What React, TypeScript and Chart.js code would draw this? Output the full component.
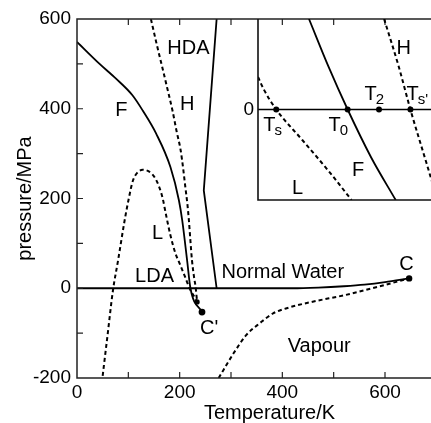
import React, { useEffect, useRef } from "react";
import { Chart, registerables } from "chart.js";
Chart.register(...registerables);

const FONT = "'Liberation Sans', Arial, Helvetica, sans-serif";

// ---- main axes ----
const xTickValues = [0, 100, 200, 300, 400, 500, 600, 700];
const xTickLabels = ["0", "", "200", "", "400", "", "600", ""];
const yTickValues = [-200, -100, 0, 100, 200, 300, 400, 500, 600];
const yTickLabels = ["-200", "", "0", "", "200", "", "400", "", "600"];

// ---- main curves (Temperature K, pressure MPa) ----
// F : solid line ending at C'
const fTemps = [0, 44, 76, 108, 128, 154, 182, 198.5, 205, 214.5, 221, 243.5];
const fPress = [549, 500, 467, 430, 396, 345, 270, 196, 151, 62, 0, -53];
// H : dashed
const hTemps = [144, 155, 166, 176, 186, 194, 202, 207, 211, 215, 218, 221, 224, 228, 231, 234];
const hPress = [600, 545, 493, 445, 396, 350, 307, 265, 226, 188, 151, 105, 62, 25, 3, -30.5];
// L : dashed (LDA spinodal)
const lTemps = [50, 60, 70, 80, 92, 100, 109, 118, 128, 137, 145, 153, 160, 167, 173, 182, 192, 200, 211, 220, 228, 234];
const lPress = [-195, -100, -5, 62, 146, 195, 240, 258, 264, 262, 256, 244, 226, 200, 166, 118, 77, 55, 24, -2, -18, -30.5];
// HDA / ice boundary : solid
const iceTemps = [272, 247, 272];
const icePress = [600, 218, 0];
// liquid - vapour : solid, ends at C
const lvTemps = [0, 420, 470, 520, 560, 600, 647];
const lvPress = [0, 0, 1.5, 4.5, 8, 13.5, 22];
// vapour spinodal : dashed
const vsTemps = [276, 305, 330, 356, 382, 407, 459, 523, 587, 647];
const vsPress = [-200, -145, -104, -78, -56, -45, -30, -15, 3.5, 22];
// dots : C, C', junction
const dotTemps = [647, 243.5, 234];
const dotPress = [22, -53, -30.5];
const dotSizes = [3.2, 3.4, 2.6];

// region labels
const labelTexts = ["HDA", "H", "F", "L", "LDA", "C'", "Normal Water", "Vapour", "C"];
const labelTemps = [217, 214.6, 86.2, 156.7, 151, 257.4, 401, 471.8, 642];
const labelPress = [534, 408.4, 397, 123, 25.7, -88.6, 35, -130, 52];

// ---- inset (schematic units) ----
const insetZeroX = [0, 10.4];
const insetZeroY = [0, 0];
const insetFX = [2.6, 3.6, 4.57, 5.77, 7.02];
const insetFY = [1, 0.47, 0, -0.53, -1];
const insetLX = [0, 0.3, 0.93, 2.27, 3.6, 4.77];
const insetLY = [0.36, 0.22, 0, -0.34, -0.68, -1];
const insetHX = [6.43, 7.18, 7.77, 8.6, 9.15];
const insetHY = [1, 0.47, 0, -0.6, -1];
const insetDotX = [0.93, 4.57, 6.17, 7.77];
const insetDotY = [0, 0, 0, 0];
const insetLabelTexts = ["H", "F", "L"];
const insetLabelX = [7.43, 5.1, 2.02];
const insetLabelY = [0.674, -0.678, -0.872];
const insetTSubs = ["s", "0", "2", "s'"];
const insetTX = [0.27, 3.6, 5.43, 7.57];
const insetTY = [-0.241, -0.241, 0.1, 0.1];

const pts = (xs: number[], ys: number[]) => xs.map((x, i) => ({ x, y: ys[i] }));

const solid = (data: any, extra: any = {}) => ({
  data,
  showLine: true,
  borderColor: "#000",
  borderWidth: 1.8,
  pointRadius: 0,
  cubicInterpolationMode: "monotone",
  ...extra,
});
const dashed = (data: any, extra: any = {}) => ({
  data,
  showLine: true,
  borderColor: "#000",
  borderWidth: 2,
  borderDash: [4, 3],
  pointRadius: 0,
  cubicInterpolationMode: "monotone",
  ...extra,
});

const mainDecor = {
  id: "mainDecor",
  afterDatasetsDraw(chart: any) {
    const { ctx, chartArea: a, scales } = chart;
    const x = scales.x;
    const y = scales.y;
    ctx.save();
    ctx.strokeStyle = "#222";
    ctx.lineWidth = 1.5;
    ctx.beginPath();
    ctx.moveTo(a.right, a.top);
    ctx.lineTo(a.left, a.top);
    ctx.lineTo(a.left, a.bottom);
    ctx.lineTo(a.right, a.bottom);
    ctx.stroke();
    ctx.lineWidth = 1.2;
    ctx.beginPath();
    for (const v of xTickValues) {
      const px = x.getPixelForValue(v);
      if (px <= a.left + 1) continue;
      ctx.moveTo(px, a.bottom);
      ctx.lineTo(px, a.bottom - 6);
      ctx.moveTo(px, a.top);
      ctx.lineTo(px, a.top + 6);
    }
    for (const v of yTickValues) {
      const py = y.getPixelForValue(v);
      if (py >= a.bottom - 1 || py <= a.top + 1) continue;
      ctx.moveTo(a.left, py);
      ctx.lineTo(a.left + 6, py);
    }
    ctx.stroke();
    ctx.fillStyle = "#000";
    ctx.font = `20px ${FONT}`;
    ctx.textAlign = "center";
    ctx.textBaseline = "middle";
    labelTexts.forEach((t, i) => {
      ctx.fillText(t, x.getPixelForValue(labelTemps[i]), y.getPixelForValue(labelPress[i]));
    });
    ctx.restore();
  },
};

const insetDecor = {
  id: "insetDecor",
  afterDatasetsDraw(chart: any) {
    const { ctx, chartArea: a, scales } = chart;
    const x = scales.x;
    const y = scales.y;
    ctx.save();
    ctx.strokeStyle = "#111";
    ctx.lineWidth = 1.6;
    ctx.beginPath();
    ctx.moveTo(a.left, a.top);
    ctx.lineTo(a.left, a.bottom);
    ctx.lineTo(a.right, a.bottom);
    ctx.stroke();
    ctx.fillStyle = "#000";
    ctx.font = `20px ${FONT}`;
    ctx.textAlign = "center";
    ctx.textBaseline = "middle";
    insetLabelTexts.forEach((t, i) => {
      ctx.fillText(t, x.getPixelForValue(insetLabelX[i]), y.getPixelForValue(insetLabelY[i]));
    });
    ctx.textAlign = "left";
    ctx.textBaseline = "alphabetic";
    insetTSubs.forEach((s, i) => {
      const px = x.getPixelForValue(insetTX[i]);
      const py = y.getPixelForValue(insetTY[i]);
      ctx.font = `20px ${FONT}`;
      ctx.fillText("T", px, py);
      const w = ctx.measureText("T").width;
      ctx.font = `15px ${FONT}`;
      ctx.fillText(s, px + w - 1, py + 4);
    });
    ctx.restore();
  },
};

export default function App() {
  const mainRef = useRef<HTMLCanvasElement>(null);
  const insetRef = useRef<HTMLCanvasElement>(null);

  useEffect(() => {
    const main = new Chart(mainRef.current as HTMLCanvasElement, {
      type: "scatter",
      data: {
        datasets: [
          solid(pts(fTemps, fPress)),
          dashed(pts(hTemps, hPress)),
          dashed(pts(lTemps, lPress)),
          solid(pts(iceTemps, icePress), { cubicInterpolationMode: "default", tension: 0 }),
          solid(pts(lvTemps, lvPress)),
          dashed(pts(vsTemps, vsPress)),
          {
            data: pts(dotTemps, dotPress),
            showLine: false,
            pointRadius: dotSizes,
            pointBackgroundColor: "#000",
            pointBorderWidth: 0,
          },
        ] as any,
      },
      options: {
        responsive: false,
        animation: false,
        devicePixelRatio: 1,
        layout: { padding: { top: 19, left: 0, right: 0, bottom: 0 } },
        plugins: { legend: { display: false }, tooltip: { enabled: false } },
        scales: {
          x: {
            type: "linear",
            min: 0,
            max: 750,
            grid: { display: false, drawTicks: false },
            border: { display: false },
            afterBuildTicks: (s: any) => {
              s.ticks = xTickValues.map((v) => ({ value: v }));
            },
            afterFit: (s: any) => {
              s.height = 45;
              s.paddingLeft = 0;
              s.paddingRight = 0;
            },
            ticks: {
              autoSkip: false,
              maxRotation: 0,
              padding: 3,
              color: "#000",
              font: { size: 19, family: FONT },
              callback: (_v: any, i: number) => xTickLabels[i] ?? "",
            },
            title: {
              display: true,
              text: "Temperature/K",
              color: "#000",
              font: { size: 20, family: FONT, lineHeight: 1 },
              padding: { top: 0, bottom: 0 },
            },
          },
          y: {
            type: "linear",
            min: -200,
            max: 600,
            grid: { display: false, drawTicks: false },
            border: { display: false },
            afterBuildTicks: (s: any) => {
              s.ticks = yTickValues.map((v) => ({ value: v }));
            },
            afterFit: (s: any) => {
              s.width = 77;
              s.paddingTop = 0;
              s.paddingBottom = 0;
            },
            ticks: {
              autoSkip: false,
              padding: 6,
              color: "#000",
              font: { size: 19, family: FONT },
              callback: (_v: any, i: number) => yTickLabels[i] ?? "",
            },
            title: {
              display: true,
              text: "pressure/MPa",
              color: "#000",
              font: { size: 20, family: FONT, lineHeight: 1 },
              padding: { top: 15, bottom: 0 },
            },
          },
        },
      } as any,
      plugins: [mainDecor],
    });

    const inset = new Chart(insetRef.current as HTMLCanvasElement, {
      type: "scatter",
      data: {
        datasets: [
          solid(pts(insetZeroX, insetZeroY), { borderWidth: 1.6 }),
          solid(pts(insetFX, insetFY)),
          dashed(pts(insetLX, insetLY)),
          dashed(pts(insetHX, insetHY)),
          {
            data: pts(insetDotX, insetDotY),
            showLine: false,
            pointRadius: 3,
            pointBackgroundColor: "#000",
            pointBorderWidth: 0,
          },
        ] as any,
      },
      options: {
        responsive: false,
        animation: false,
        devicePixelRatio: 1,
        layout: { padding: { top: 19, left: 0, right: 0, bottom: 2 } },
        plugins: { legend: { display: false }, tooltip: { enabled: false } },
        scales: {
          x: { type: "linear", display: false, min: 0, max: 10.4 },
          y: {
            type: "linear",
            min: -1,
            max: 1,
            grid: { display: false, drawTicks: false },
            border: { display: false },
            afterBuildTicks: (s: any) => {
              s.ticks = [{ value: 0 }];
            },
            afterFit: (s: any) => {
              s.width = 20;
              s.paddingTop = 0;
              s.paddingBottom = 0;
            },
            ticks: {
              padding: 4,
              color: "#000",
              font: { size: 19, family: FONT },
              callback: () => "0",
            },
          },
        },
      } as any,
      plugins: [insetDecor],
    });

    return () => {
      main.destroy();
      inset.destroy();
    };
  }, []);

  return (
    <div
      style={{
        position: "fixed",
        left: 0,
        top: 0,
        width: 431,
        height: 423,
        overflow: "hidden",
        background: "#fff",
      }}
    >
      <canvas
        ref={mainRef}
        width={466}
        height={423}
        style={{ position: "absolute", left: 0, top: 0, width: 466, height: 423 }}
      />
      <canvas
        ref={insetRef}
        width={228}
        height={204}
        style={{ position: "absolute", left: 238, top: 0, width: 228, height: 204 }}
      />
    </div>
  );
}
